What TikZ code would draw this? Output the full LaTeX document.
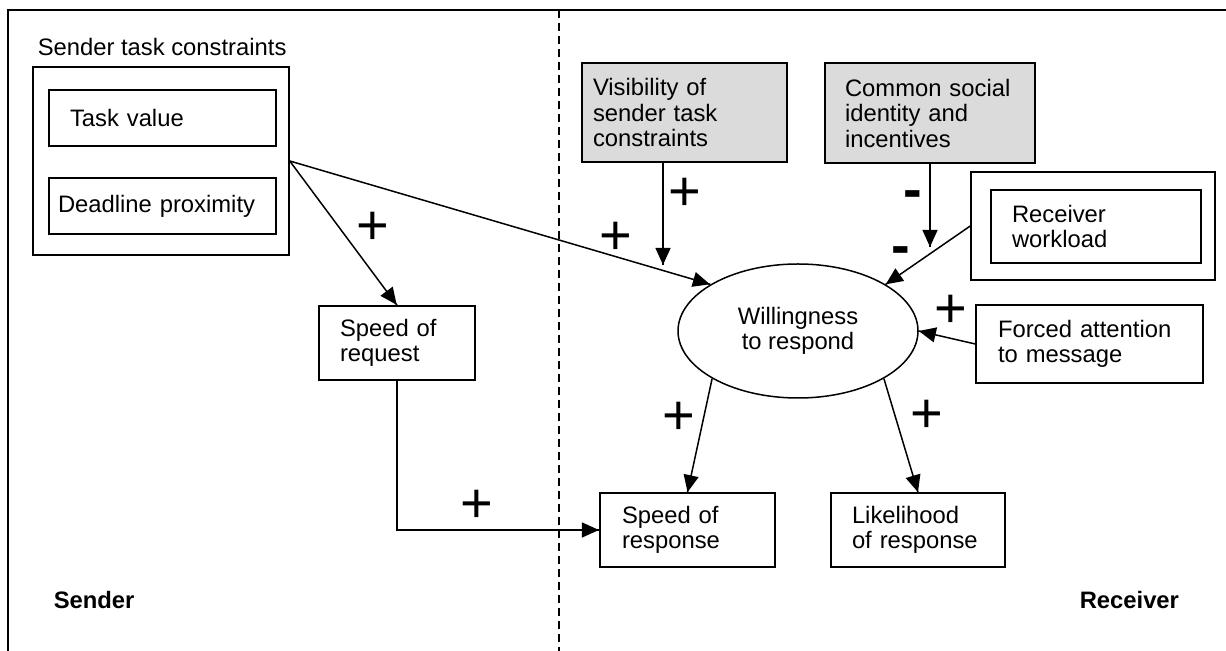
\documentclass[tikz,border=0pt]{standalone}
\usepackage{fontspec}
\setmainfont{Liberation Sans}
\usetikzlibrary{positioning}
\usetikzlibrary{arrows.meta}
\usetikzlibrary{decorations.markings}
\usetikzlibrary{shapes.geometric}
\tikzset{->/.style = {decoration={markings,
                                  mark=at position 0.999
                                  with {\arrow{Triangle[length=8.5pt,width=7.5pt]}}},
                      postaction={decorate}}}
\tikzset{box/.style = {draw, rectangle, line width=0.75pt, align=left, inner ysep=0}}
\tikzset{shaded/.style = {box, fill=black!14}}
\tikzset{sign/.style = {inner sep=0, font=\fontsize{28}{28}\selectfont}}
\tikzset{side/.style = {anchor=base west, inner sep=0,
                        font=\fontsize{11.9}{12.75}\selectfont\bfseries}}

\begin{document}
\begin{tikzpicture}[x=0.5pt, y=-0.5pt, line width=0.75pt,
    font=\fontsize{11.9}{12.75}\selectfont]
      \useasboundingbox (0,0) rectangle (1226,651);
      % frame and divider
      \draw (8,651) -- (8,10) -- (1226,10);
      \draw[dash pattern=on 4pt off 2.5pt, line width=0.6pt] (559,10) -- (559,651);

      % sender side
      \node[anchor=base west, inner sep=0] (sendlabel) at (37,56) {Sender task constraints};
      \node[box, minimum width=128pt, minimum height=94pt] (sendbox) at (161,161) {};
      \node[box, minimum width=113.5pt, minimum height=28pt, inner xsep=10.5pt,
            text width=92.5pt] (taskval) at (162.5,118) {Task value};
      \node[box, minimum width=113.5pt, minimum height=28pt, inner xsep=4.5pt,
            text width=104.5pt] (deadline) at (162.5,206) {Deadline proximity};
      \node[box, minimum width=78pt, minimum height=37pt, inner xsep=10.5pt,
            text width=57pt] (speedreq) at (397,343) {Speed of\\request};

      % receiver side
      \node[shaded, minimum width=102.5pt, minimum height=49.5pt, inner xsep=5.5pt,
            text width=91.5pt] (visib) at (684.5,112.5) {Visibility of\\sender task\\constraints};
      \node[shaded, minimum width=105pt, minimum height=50pt, inner xsep=10pt,
            text width=85pt] (social) at (930,113) {Common social\\identity and\\incentives};
      \node[box, minimum width=122pt, minimum height=54pt] (workload) at (1093,226) {};
      \node[box, minimum width=105pt, minimum height=36.5pt, inner xsep=10.5pt,
            text width=84pt] (workinner) at (1096,226.5) {Receiver\\workload};
      \node[box, minimum width=113.5pt, minimum height=39pt, inner xsep=11pt,
            text width=91.5pt] (forced) at (1089.5,344) {Forced attention\\to message};
      \node[draw, ellipse, minimum width=120pt, minimum height=67pt, inner sep=0,
            align=center] (willing) at (798,331) {Willingness\\to respond};
      \node[box, minimum width=87.5pt, minimum height=37pt, inner xsep=11pt,
            text width=65.5pt] (speedresp) at (687.5,530) {Speed of\\response};
      \node[box, minimum width=87pt, minimum height=37pt, inner xsep=10.5pt,
            text width=66pt] (likely) at (918,530) {Likelihood\\of response};

      \coordinate (visend) at (663,265);
      \coordinate (socend) at (930,247);

      % connectors
      \draw[->] (sendbox.east) -- (speedreq.north);
      \draw[->] (sendbox.east) -- (willing.152);
      \draw[->] (visend |- visib.south) -- (visend);
      \draw[->] (social.south) -- (socend);
      \draw[->] (workload.west) -- (willing.28);
      \draw[->] (forced.west) -- (willing.east);
      \draw[->] (willing.209) -- (speedresp.north);
      \draw[->] (willing.331) -- (likely.north);
      \draw[->] (speedreq.south) |- (speedresp.west);

      % signs
      \node[sign] (s1) at (373,228) {+};
      \node[sign] (s2) at (616,238) {+};
      \node[sign] (s3) at (685,194) {+};
      \node[sign, font=\fontsize{28}{28}\selectfont\bfseries] (s4) at (913,199.5) {-};
      \node[sign, font=\fontsize{28}{28}\selectfont\bfseries] (s5) at (901,255.5) {-};
      \node[sign] (s6) at (951,311) {+};
      \node[sign] (s7) at (679,418) {+};
      \node[sign] (s8) at (927,416) {+};
      \node[sign] (s9) at (477,506) {+};

      \node[side] (sender) at (53,609) {Sender};
      \node[side] (receiver) at (1079,609) {Receiver};
\end{tikzpicture}
\end{document}
